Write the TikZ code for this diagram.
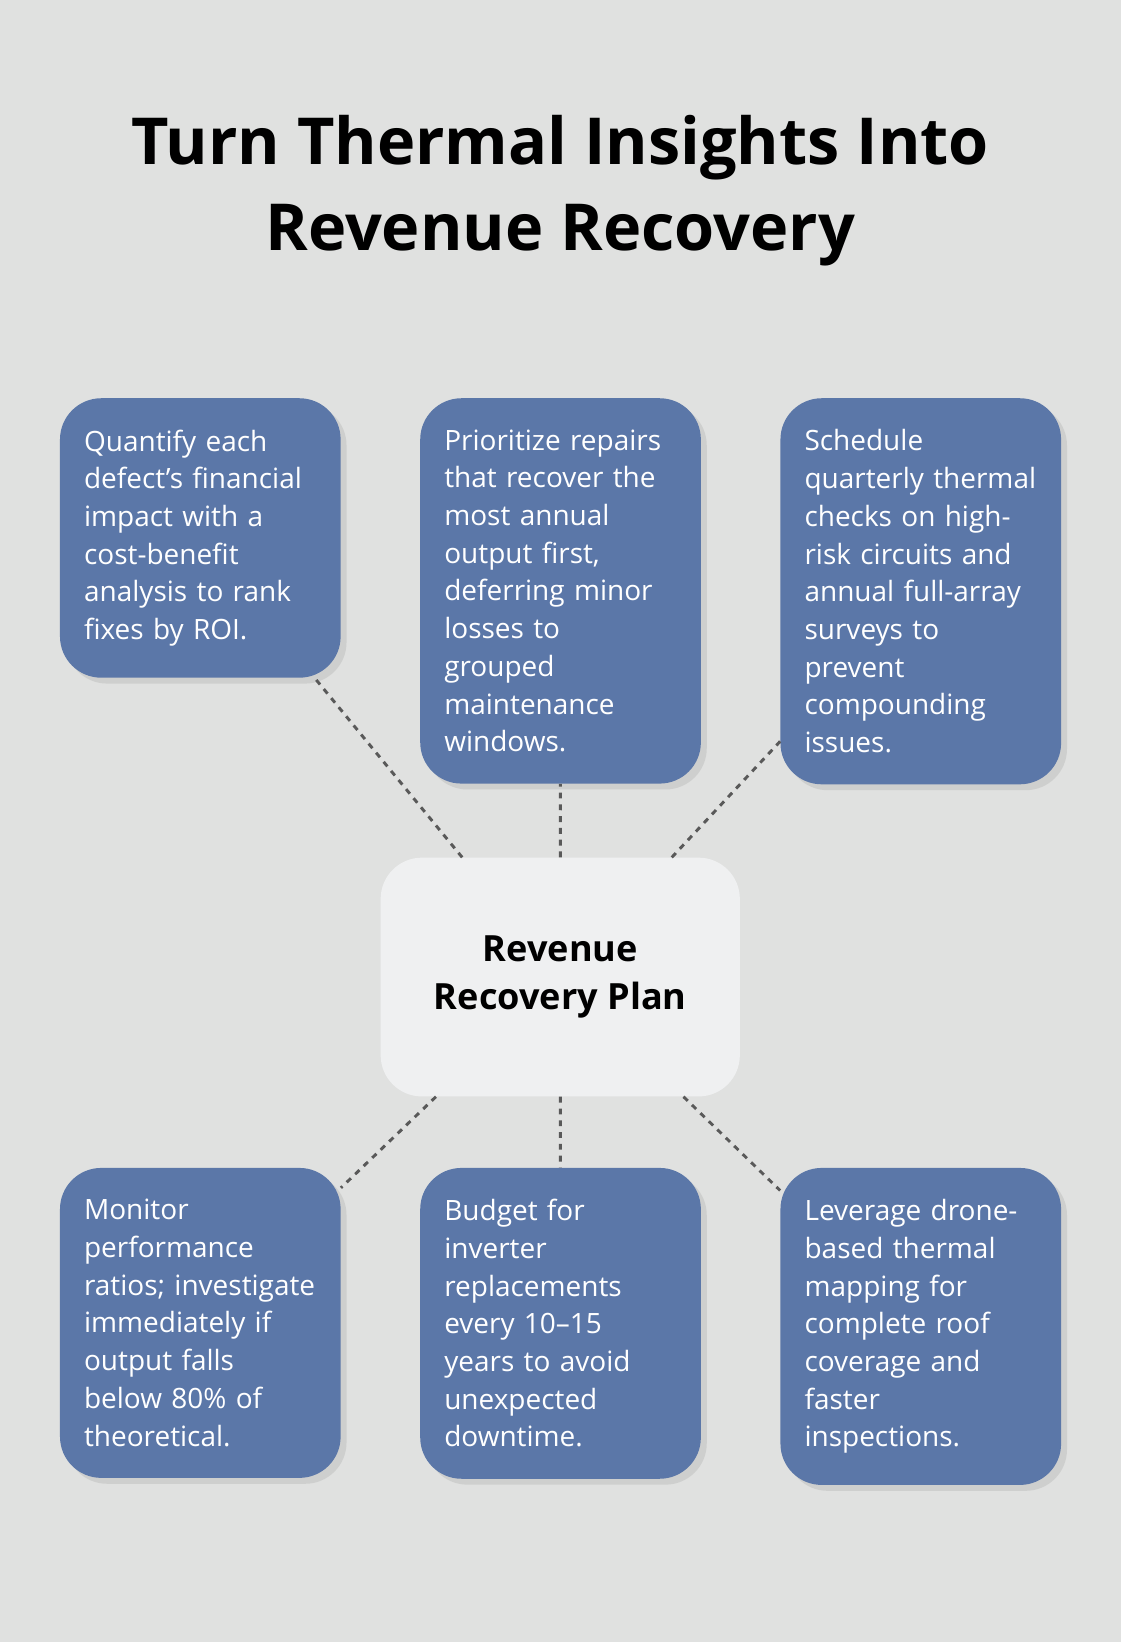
\documentclass[tikz,border=0pt]{standalone}
\usepackage{fontspec}
\setmainfont{Open Sans}
\usetikzlibrary{positioning,shadows}
\definecolor{bg}{HTML}{E0E1E0}
\definecolor{tip}{HTML}{5B77A8}
\definecolor{hub}{HTML}{EFF0F1}

\begin{document}
\begin{tikzpicture}[x=0.025cm,y=-0.025cm,
    tipbox/.style={fill=tip,rounded corners=28,text=white,anchor=north west,
      align=left,text width=222*0.025cm,inner xsep=23*0.025cm,inner ysep=30*0.025cm,
      font=\fontsize{19}{25.6}\selectfont,
      drop shadow={opacity=0.18,shadow xshift=4pt,shadow yshift=-4pt}},
    hubbox/.style={fill=hub,rounded corners=28,align=center,
      minimum width=343*0.025cm,minimum height=228*0.025cm,
      font=\fontsize{24.5}{32.5}\selectfont\bfseries},
    link/.style={draw=black!65,line width=2pt,dash pattern=on 4pt off 4pt}]
  \fill[bg] (0,0) rectangle (1070,1568);
  \useasboundingbox (0,0) rectangle (1070,1568);

  \node[font=\fontsize{44}{58}\selectfont\bfseries,align=center] (title)
    at (535,182) {Turn Thermal Insights Into\\Revenue Recovery};

  \node[hubbox] (plan) at (535,933) {Revenue\\Recovery Plan};

  % top row
  \node[tipbox] (quantify) at (57,380) {Quantify each\\defect’s financial\\impact with a\\cost-benefit\\analysis to rank\\fixes by ROI.};
  \node[tipbox] (prioritize) at (401,380) {Prioritize repairs\\that recover the\\most annual\\output first,\\deferring minor\\losses to grouped\\maintenance\\windows.};
  \node[tipbox] (schedule) at (745,380) {Schedule\\quarterly thermal\\checks on high-\\risk circuits and\\annual full-array\\surveys to\\prevent\\compounding\\issues.};

  % bottom row
  \node[tipbox] (monitor) at (57,1115) {Monitor\\performance\\ratios; investigate\\immediately if\\output falls\\below 80\% of\\theoretical.};
  \node[tipbox] (budget) at (401,1115) {Budget for\\inverter\\replacements\\every 10–15\\years to avoid\\unexpected\\downtime.};
  \node[tipbox] (drone) at (745,1115) {Leverage drone-\\based thermal\\mapping for\\complete roof\\coverage and\\faster\\inspections.};

  \foreach \n in {quantify,prioritize,schedule,monitor,budget,drone}
    \draw[link] (plan) -- (\n);
\end{tikzpicture}
\end{document}
